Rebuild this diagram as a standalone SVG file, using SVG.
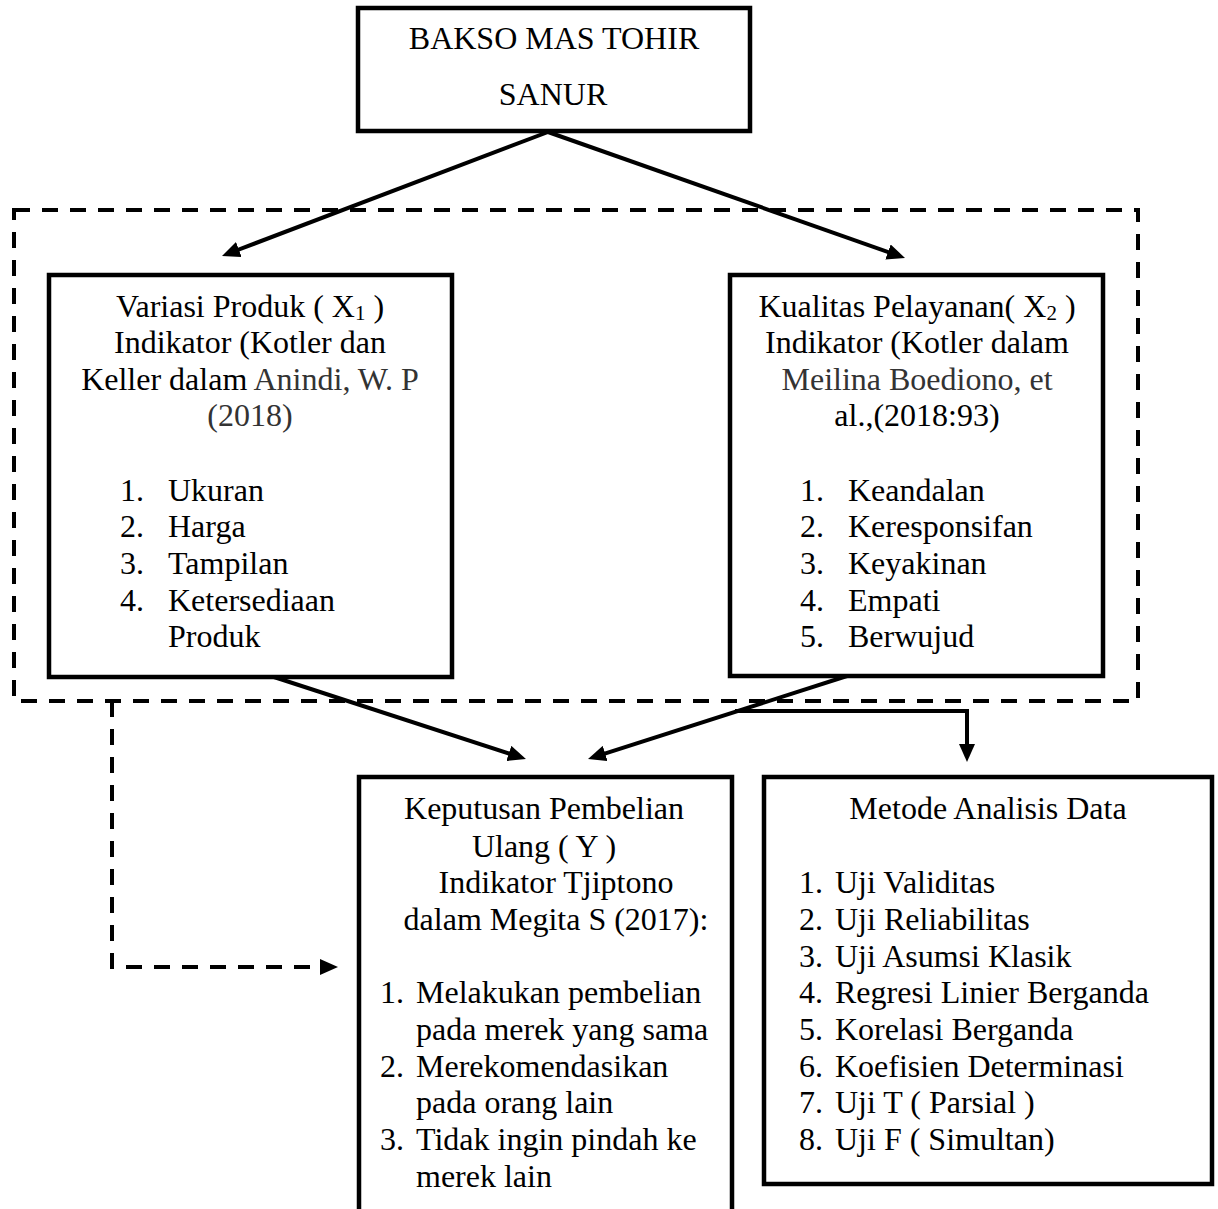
<svg xmlns="http://www.w3.org/2000/svg" width="1218" height="1209" viewBox="0 0 1218 1209">
<defs>
<style>
text{font-family:"Liberation Serif","Times New Roman",serif;font-size:32px;fill:#000}
.box{fill:#fff;stroke:#000;stroke-width:4.5}
.ln{fill:none;stroke:#000;stroke-width:4}
.dash{fill:none;stroke:#000;stroke-width:4;stroke-dasharray:16 12}
.g{fill:#333}
.c{text-anchor:middle}
.sub{font-size:21px}
</style>
<marker id="ah" markerUnits="userSpaceOnUse" markerWidth="18" markerHeight="16" refX="7" refY="8" orient="auto">
<path d="M0,0 L18,8 L0,16 z" fill="#000"/>
</marker>
</defs>
<rect width="1218" height="1209" fill="#fff"/>

<g id="connectors">
<rect class="dash" x="14" y="210" width="1124" height="491"/>
<line class="ln" x1="548" y1="132" x2="232.3" y2="252.0" marker-end="url(#ah)"/>
<line class="ln" x1="548" y1="132" x2="894.6" y2="254.3" marker-end="url(#ah)"/>
<line class="ln" x1="274" y1="677" x2="515.5" y2="755.6" marker-end="url(#ah)"/>
<line class="ln" x1="847" y1="676" x2="598.5" y2="755.6" marker-end="url(#ah)"/>
<path class="ln" d="M735,711 H967 V751" marker-end="url(#ah)"/>
<path class="dash" d="M112,701 V967 H327" marker-end="url(#ah)"/>
</g>

<g id="node-top">
<rect class="box" x="358" y="8" width="392" height="123"/>
<text class="c" x="554" y="49">BAKSO MAS TOHIR</text>
<text class="c" x="553" y="105">SANUR</text>
</g>

<g id="node-x1">
<rect class="box" x="49" y="275" width="403" height="402"/>
<text class="c" x="250" y="317">Variasi Produk ( X<tspan class="sub" dy="3">1</tspan><tspan dy="-3"> )</tspan></text>
<text class="c" x="250" y="353">Indikator (Kotler dan</text>
<text class="c" x="250" y="390">Keller dalam <tspan class="g">Anindi, W. P</tspan></text>
<text class="c g" x="250" y="426">(2018)</text>
<text x="120" y="501">1.</text><text x="168" y="501">Ukuran</text>
<text x="120" y="537">2.</text><text x="168" y="537">Harga</text>
<text x="120" y="574">3.</text><text x="168" y="574">Tampilan</text>
<text x="120" y="611">4.</text><text x="168" y="611">Ketersediaan</text>
<text x="168" y="647">Produk</text>
</g>

<g id="node-x2">
<rect class="box" x="730" y="275" width="373" height="401"/>
<text class="c" x="917" y="317">Kualitas Pelayanan( X<tspan class="sub" dy="3">2</tspan><tspan dy="-3"> )</tspan></text>
<text class="c" x="917" y="353">Indikator (Kotler dalam</text>
<text class="c g" x="917" y="390">Meilina Boediono, et</text>
<text class="c" x="917" y="426">al.,(2018:93)</text>
<text x="800" y="501">1.</text><text x="848" y="501">Keandalan</text>
<text x="800" y="537">2.</text><text x="848" y="537">Keresponsifan</text>
<text x="800" y="574">3.</text><text x="848" y="574">Keyakinan</text>
<text x="800" y="611">4.</text><text x="848" y="611">Empati</text>
<text x="800" y="647">5.</text><text x="848" y="647">Berwujud</text>
</g>

<g id="node-y">
<rect class="box" x="359" y="777" width="373" height="460"/>
<text class="c" x="544" y="819">Keputusan Pembelian</text>
<text class="c" x="544" y="857">Ulang ( Y )</text>
<text class="c" x="556" y="893">Indikator Tjiptono</text>
<text class="c" x="556" y="930">dalam Megita S (2017):</text>
<text x="380" y="1003">1.</text><text x="416" y="1003">Melakukan pembelian</text>
<text x="416" y="1040">pada merek yang sama</text>
<text x="380" y="1077">2.</text><text x="416" y="1077">Merekomendasikan</text>
<text x="416" y="1113">pada orang lain</text>
<text x="380" y="1150">3.</text><text x="416" y="1150">Tidak ingin pindah ke</text>
<text x="416" y="1187">merek lain</text>
</g>

<g id="node-metode">
<rect class="box" x="764" y="777" width="448" height="407"/>
<text class="c" x="988" y="819">Metode Analisis Data</text>
<text x="799" y="893">1.</text><text x="835" y="893">Uji Validitas</text>
<text x="799" y="930">2.</text><text x="835" y="930">Uji Reliabilitas</text>
<text x="799" y="967">3.</text><text x="835" y="967">Uji Asumsi Klasik</text>
<text x="799" y="1003">4.</text><text x="835" y="1003">Regresi Linier Berganda</text>
<text x="799" y="1040">5.</text><text x="835" y="1040">Korelasi Berganda</text>
<text x="799" y="1077">6.</text><text x="835" y="1077">Koefisien Determinasi</text>
<text x="799" y="1113">7.</text><text x="835" y="1113">Uji T ( Parsial )</text>
<text x="799" y="1150">8.</text><text x="835" y="1150">Uji F ( Simultan)</text>
</g>
</svg>
